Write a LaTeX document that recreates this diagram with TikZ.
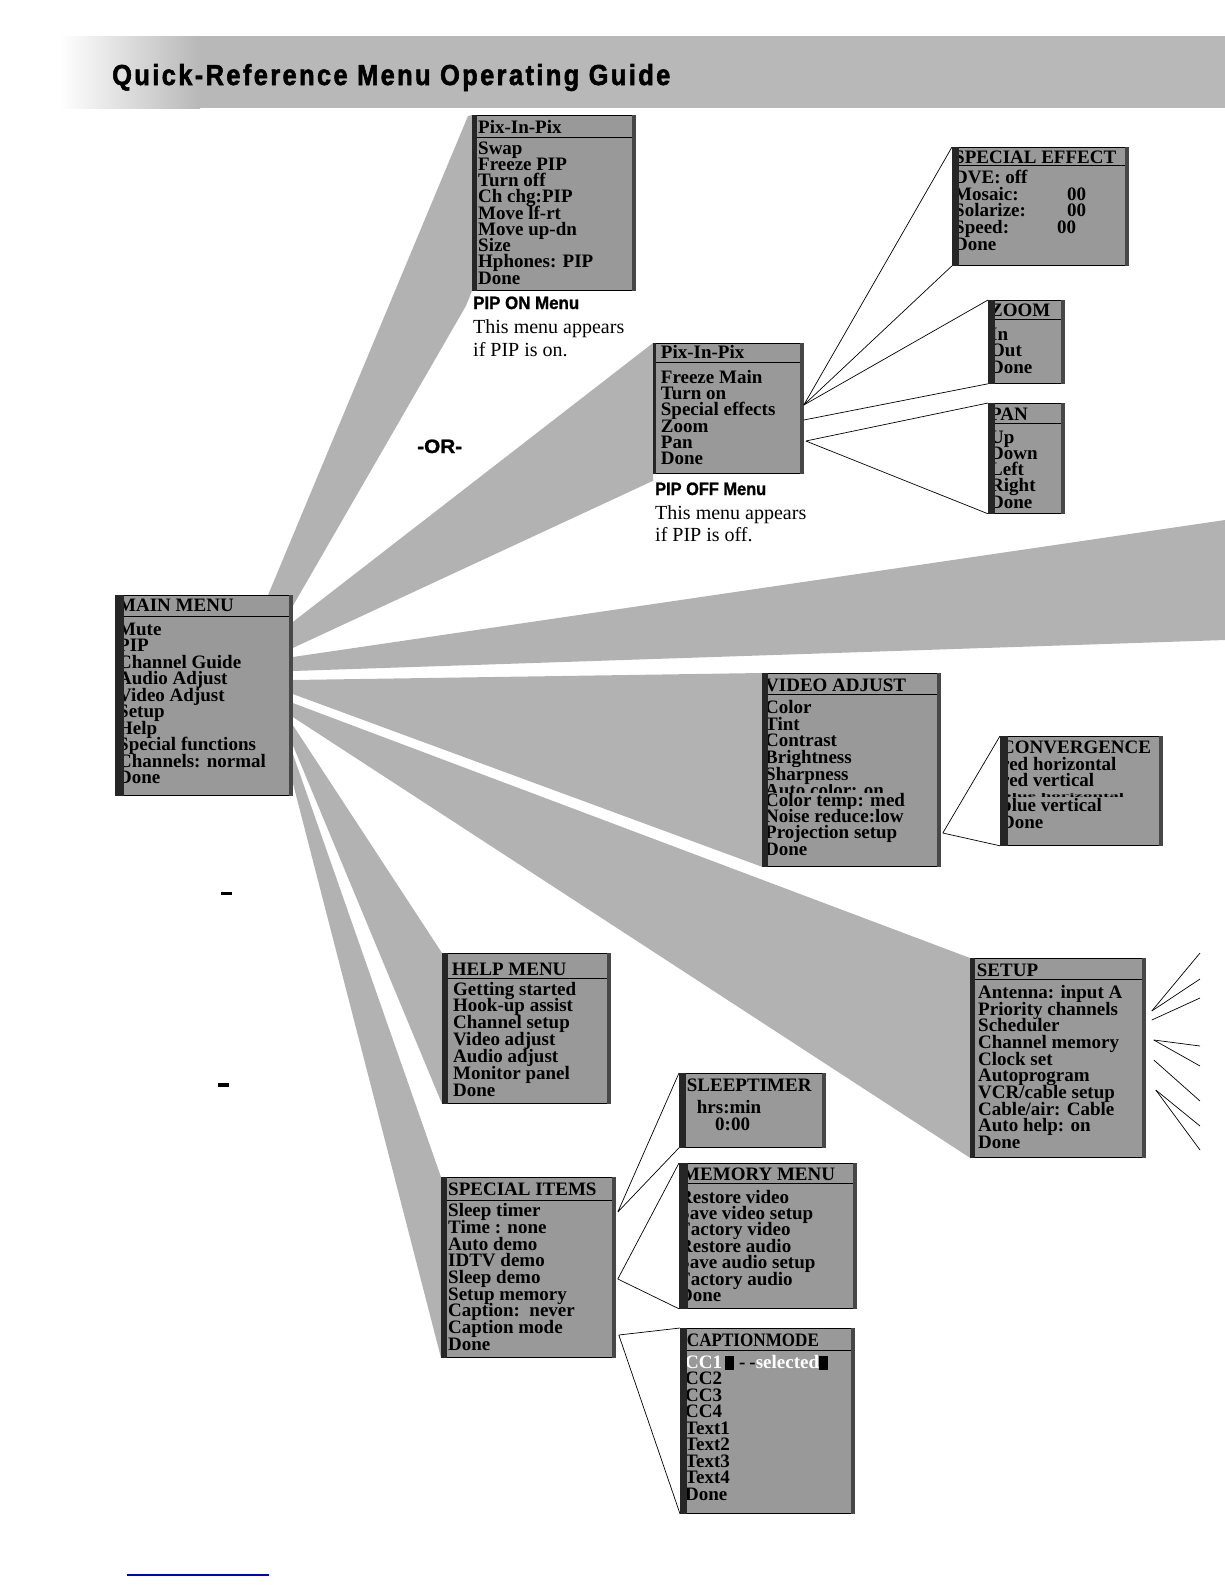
\documentclass[tikz,border=0pt]{standalone}
\usepackage{fontspec}
\setmainfont{Liberation Serif}
\newfontfamily\sansb[FakeBold=1.2]{Liberation Sans}
\newfontfamily\headfont[FakeStretch=0.85,LetterSpace=8,FakeBold=1.8]{Liberation Sans}
\usepackage{xcolor}
\usepackage{tikz}
\usetikzlibrary{calc}
\definecolor{boxgray}{gray}{0.6}
\definecolor{fangray}{gray}{0.7}
\definecolor{hdrgray}{gray}{0.72}
\definecolor{bandc}{gray}{0.15}
\definecolor{linkblue}{HTML}{0000CC}
\newcommand\menufont{\fontsize{19}{16.5}\selectfont\bfseries}
\newcommand\notefont{\fontsize{20}{23}\selectfont}
\pgfdeclarelayer{bg}
\pgfsetlayers{bg,main}
\tikzset{
  menu/.style={draw=black,line width=0.8pt,fill=boxgray,anchor=north west,inner sep=0pt},
  itm/.style={anchor=base west,inner sep=0pt,font=\menufont},
  note/.style={anchor=base west,inner sep=0pt,font=\notefont},
  fan/.style={fill=fangray,draw=none},
  lnk/.style={black,line width=0.7pt},
  sep/.style={black,line width=0.6pt}
}

\begin{document}
\begin{tikzpicture}[x=1pt,y=-1pt]
\useasboundingbox (0,0) rectangle (1225,1585);
% header band
\shade[left color=white,right color=hdrgray] (60,36) rectangle (200,108);
\fill[hdrgray] (199,36) rectangle (1225,108);
\node[anchor=base west,inner sep=0pt] (title) at (112,85) {\resizebox{558pt}{21pt}{\headfont\bfseries Quick-Reference Menu Operating Guide}};

% menu boxes
\node[menu,minimum width=163pt,minimum height=175pt] (pipon) at (472,115) {};
\node[menu,minimum width=176pt,minimum height=118pt] (se) at (952,147) {};
\node[menu,minimum width=150pt,minimum height=130pt] (pipoff) at (653,343) {};
\node[menu,minimum width=76pt,minimum height=83pt] (zoom) at (988,300) {};
\node[menu,minimum width=76pt,minimum height=110pt] (pan) at (988,403) {};
\node[menu,minimum width=177pt,minimum height=200pt] (mainm) at (115,595) {};
\node[menu,minimum width=178pt,minimum height=193pt] (video) at (762,673) {};
\node[menu,minimum width=162pt,minimum height=109pt] (conv) at (1000,736) {};
\node[menu,minimum width=168pt,minimum height=150pt] (help) at (442,953) {};
\node[menu,minimum width=175pt,minimum height=199pt] (setup) at (970,958) {};
\node[menu,minimum width=146pt,minimum height=74pt] (sleep) at (679,1073) {};
\node[menu,minimum width=174pt,minimum height=180pt] (special) at (441,1177) {};
\node[menu,minimum width=177pt,minimum height=145pt] (memory) at (679,1163) {};
\node[menu,minimum width=174pt,minimum height=185pt] (caption) at (680,1328) {};

% titles
\node[itm] (pipon-t) at ([shift={(6,18)}]pipon.north west) {Pix-In-Pix};
\node[itm] (se-t) at ([shift={(2,16.3)}]se.north west) {SPECIAL EFFECT};
\node[itm] (pipoff-t) at ([shift={(7.7,15)}]pipoff.north west) {Pix-In-Pix};
\node[itm] (zoom-t) at ([shift={(2,16)}]zoom.north west) {ZOOM};
\node[itm] (pan-t) at ([shift={(2,17)}]pan.north west) {PAN};
\node[itm] (mainm-t) at ([shift={(3,16.7)}]mainm.north west) {MAIN MENU};
\node[itm] (video-t) at ([shift={(3,18.7)}]video.north west) {VIDEO ADJUST};
\node[itm] (conv-t) at ([shift={(1,17.3)}]conv.north west) {CONVERGENCE};
\node[itm] (help-t) at ([shift={(9.7,22)}]help.north west) {HELP MENU};
\node[itm] (setup-t) at ([shift={(6.7,18)}]setup.north west) {SETUP};
\node[itm] (sleep-t) at ([shift={(7.7,18.7)}]sleep.north west) {SLEEPTIMER};
\node[itm] (special-t) at ([shift={(7,18)}]special.north west) {SPECIAL ITEMS};
\node[itm] (memory-t) at ([shift={(3,17)}]memory.north west) {MEMORY MENU};
\node[itm] (caption-t) at ([shift={(6.7,18.7)}]caption.north west) {\scalebox{0.9}[1]{CAPTIONMODE}};

% items
\foreach \lbl [count=\i] in {Swap,Freeze PIP,Turn off,Ch chg:PIP,Move lf-rt,Move up-dn,Size,Hphones: PIP,Done}
  \node[itm] (pipon-\i) at ([shift={(6,{39+16.25*(\i-1)})}]pipon.north west) {\lbl};
\foreach \lbl [count=\i] in {DVE: off,{\makebox[113pt][l]{Mosaic:}00},{\makebox[113pt][l]{Solarize:}00},{\makebox[103pt][l]{Speed:}00},Done}
  \node[itm] (se-\i) at ([shift={(2,{36.3+16.7*(\i-1)})}]se.north west) {\lbl};
\foreach \lbl [count=\i] in {Freeze Main,Turn on,Special effects,Zoom,Pan,Done}
  \node[itm] (pipoff-\i) at ([shift={(7.7,{40.3+16.3*(\i-1)})}]pipoff.north west) {\lbl};
\foreach \lbl [count=\i] in {In,Out,Done}
  \node[itm] (zoom-\i) at ([shift={(2,{40+16.7*(\i-1)})}]zoom.north west) {\lbl};
\foreach \lbl [count=\i] in {Up,Down,Left,Right,Done}
  \node[itm] (pan-\i) at ([shift={(2,{40+16.25*(\i-1)})}]pan.north west) {\lbl};
\foreach \lbl [count=\i] in {Mute,PIP,Channel Guide,Audio Adjust,Video Adjust,Setup,Help,Special functions,Channels: normal,Done}
  \node[itm] (mainm-\i) at ([shift={(3,{40+16.5*(\i-1)})}]mainm.north west) {\lbl};
\node[itm] (video-6) at ([shift={(3,123)}]video.north west) {Auto color: on};
\foreach \dy/\lbl [count=\i] in {40/Color,57/Tint,73.5/Contrast,90/Brightness,107/Sharpness,133.5/Color temp: med,149/Noise reduce:low,165.5/Projection setup,182/Done}
  \node[itm,fill=boxgray] (video-v\i) at ([shift={(3,\dy)}]video.north west) {\lbl};
\foreach \dy/\lbl [count=\i] in {34/red horizontal,50.7/red vertical,75.7/blue vertical,92.3/Done}
  \node[itm] (conv-\i) at ([shift={(1,\dy)}]conv.north west) {\lbl};
\node[itm] (conv-x) at ([shift={(1,61)}]conv.north west) {\scalebox{1}[0.3]{blue horizontal}};
\foreach \lbl [count=\i] in {Getting started,Hook-up assist,Channel setup,Video adjust,Audio adjust,Monitor panel,Done}
  \node[itm] (help-\i) at ([shift={(11,{42+16.95*(\i-1)})}]help.north west) {\lbl};
\foreach \lbl [count=\i] in {Antenna: input A,Priority channels,Scheduler,Channel memory,Clock set,Autoprogram,VCR/cable setup,Cable/air: Cable,Auto help: on,Done}
  \node[itm] (setup-\i) at ([shift={(8,{40.3+16.7*(\i-1)})}]setup.north west) {\lbl};
\node[itm] (sleep-1) at ([shift={(17.7,40)}]sleep.north west) {hrs:min};
\node[itm] (sleep-2) at ([shift={(36,57)}]sleep.north west) {0:00};
\foreach \lbl [count=\i] in {Sleep timer,Time : none,Auto demo,IDTV demo,Sleep demo,Setup memory,Caption:\ \ never,Caption mode,Done}
  \node[itm] (special-\i) at ([shift={(7,{39.7+16.7*(\i-1)})}]special.north west) {\lbl};
\foreach \lbl [count=\i] in {Restore video,Save video setup,Factory video,Restore audio,Save audio setup,Factory audio,Done}
  \node[itm] (memory-\i) at ([shift={(0,{40+16.4*(\i-1)})}]memory.north west) {\lbl};
\node[itm] (caption-1) at ([shift={(5,40)}]caption.north west) {\textcolor{white}{CC1}\hspace{3pt}\rule[-2pt]{9pt}{14pt}\hspace{5pt}-\hspace{4pt}-\textcolor{white}{selected}\rule[-2pt]{9pt}{14pt}};
\foreach \lbl [count=\i from 2] in {CC2,CC3,CC4,Text1,Text2,Text3,Text4,Done}
  \node[itm] (caption-\i) at ([shift={(5,{40+16.5*(\i-1)})}]caption.north west) {\lbl};

% title rules
\foreach \m/\d in {pipon/22,se/18,pipoff/19.7,zoom/19,pan/20,mainm/21,video/21,help/25.3,setup/21.3,special/23,memory/20,caption/22}
  \draw[sep] ([shift={(0,\d)}]\m.north west) -- ([shift={(0,\d)}]\m.north east);

% dark edges
\foreach \m/\w in {pipon/5,se/7,pipoff/3,zoom/7,pan/7,mainm/9,video/6,conv/8,help/6,setup/5,sleep/7,special/6,memory/9,caption/7}{
  \fill[bandc] (\m.north west) rectangle ([shift={(\w,0)}]\m.south west);
  \fill[bandc!85] ([shift={(-4,0)}]\m.north east) rectangle (\m.south east);
}

% notes
\node[anchor=base west,inner sep=0pt] (pipon-h) at (473,309) {\resizebox{106pt}{12.5pt}{\sansb\bfseries PIP ON Menu}};
\node[note] (pipon-n1) at (473,333) {This menu appears};
\node[note] (pipon-n2) at (473,356) {if PIP is on.};
\node[anchor=base west,inner sep=0pt] (pipoff-h) at (655,495) {\resizebox{111pt}{12.5pt}{\sansb\bfseries PIP OFF Menu}};
\node[note] (pipoff-n1) at (655,519) {This menu appears};
\node[note] (pipoff-n2) at (655,541) {if PIP is off.};
\node[anchor=base west,inner sep=0pt] (or) at (417,453) {\resizebox{45pt}{13.5pt}{\sansb\bfseries -OR-}};

% fan roots and free ends
\coordinate (r1a) at ([shift={(-26,3)}]mainm.north east);
\coordinate (r1b) at ([shift={(0,11)}]mainm.north east);
\coordinate (r2a) at ([shift={(0,27)}]mainm.north east);
\coordinate (r2b) at ([shift={(0,53)}]mainm.north east);
\coordinate (r3a) at ([shift={(0,62)}]mainm.north east);
\coordinate (r3b) at ([shift={(0,76)}]mainm.north east);
\coordinate (r4a) at ([shift={(0,85)}]mainm.north east);
\coordinate (r4b) at ([shift={(0,99)}]mainm.north east);
\coordinate (r5a) at ([shift={(0,108)}]mainm.north east);
\coordinate (r5b) at ([shift={(0,122)}]mainm.north east);
\coordinate (r6a) at ([shift={(0,130)}]mainm.north east);
\coordinate (r6b) at ([shift={(0,150)}]mainm.north east);
\coordinate (r7a) at ([shift={(-2,153)}]mainm.north east);
\coordinate (r7b) at ([shift={(-2,180)}]mainm.north east);
\coordinate (edgea) at (1225,520);
\coordinate (edgeb) at (1225,640);

\begin{pgfonlayer}{bg}
\fill[fan] (r1a) -- ([shift={(-4,1)}]pipon.north west) -- (pipon.north west) -- (pipon.south west) -- ([shift={(-6,15)}]pipon.south west) -- (r1b) -- cycle;
\fill[fan] (r2a) -- (pipoff.north west) -- ([shift={(0,7)}]pipoff.south west) -- (r2b) -- cycle;
\fill[fan] (r3a) -- (edgea) -- (edgeb) -- (r3b) -- cycle;
\fill[fan] (r4a) -- (video.north west) -- (video.south west) -- (r4b) -- cycle;
\fill[fan] (r5a) -- (setup.north west) -- (setup.south west) -- (r5b) -- cycle;
\fill[fan] (r6a) -- (help.north west) -- (help.south west) -- (r6b) -- cycle;
\fill[fan] (r7a) -- (special.north west) -- (special.south west) -- (r7b) -- cycle;
\end{pgfonlayer}

% sub-menu links
\coordinate (pf1) at ([shift={(0,62)}]pipoff.north east);
\coordinate (pf2) at ([shift={(0,77)}]pipoff.north east);
\coordinate (pf3) at ([shift={(2,98)}]pipoff.north east);
\coordinate (va1) at ([shift={(2,160)}]video.north east);
\coordinate (si1) at ([shift={(2,35)}]special.north east);
\coordinate (si2) at ([shift={(2,102)}]special.north east);
\coordinate (si3) at ([shift={(3,158)}]special.north east);
\draw[lnk] (pf1) -- (se.north west) (pf1) -- (se.south west);
\draw[lnk] (pf1) -- (zoom.north west) (pf2) -- (zoom.south west);
\draw[lnk] (pf3) -- (pan.north west) (pf3) -- (pan.south west);
\draw[lnk] (va1) -- (conv.north west) (va1) -- (conv.south west);
\draw[lnk] (si1) -- (sleep.north west) (si1) -- (sleep.south west);
\draw[lnk] (si2) -- (memory.north west) (si2) -- (memory.south west);
\draw[lnk] (si3) -- (caption.north west) (si3) -- (caption.south west);

% setup links running off the page
\coordinate (st1) at ([shift={(6,53)}]setup.north east);
\coordinate (st2) at ([shift={(6,62)}]setup.north east);
\coordinate (st3) at ([shift={(8,82)}]setup.north east);
\coordinate (st4) at ([shift={(8,102)}]setup.north east);
\coordinate (st5) at ([shift={(10,132)}]setup.north east);
\foreach \o/\e in {st1/953,st1/979,st2/998,st3/1046,st3/1066,st4/1101,st5/1126,st5/1150}
  \draw[lnk] (\o) -- (1200,\e);

% marks
\fill (221,892) rectangle (232,895);
\fill (218,1083) rectangle (229,1087);
\draw[linkblue,line width=1.6pt] (127,1575) -- (269,1575);
\end{tikzpicture}
\end{document}
